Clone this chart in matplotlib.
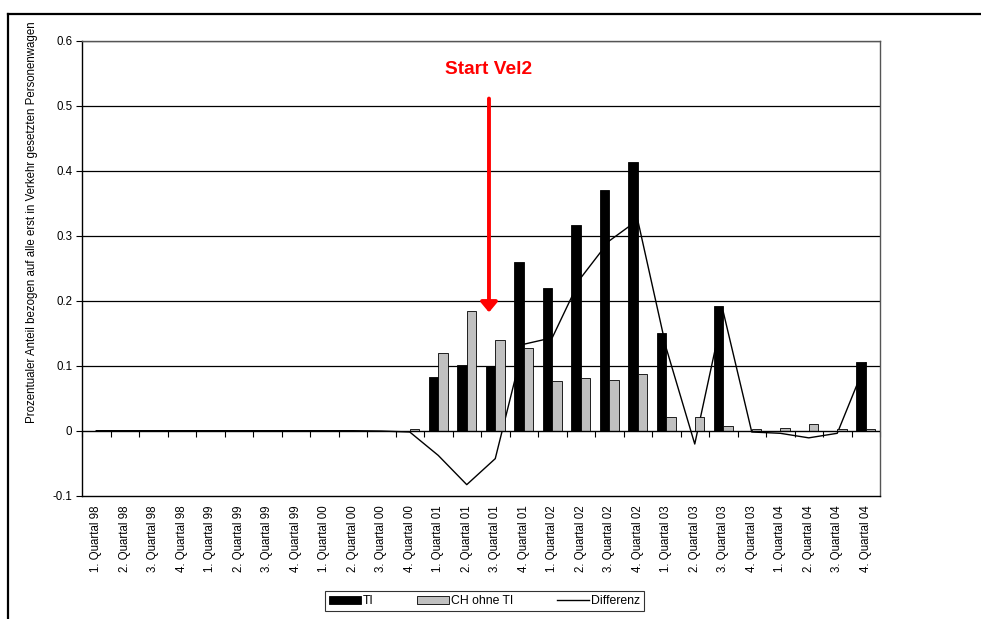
import matplotlib
matplotlib.use("Agg")
import matplotlib.pyplot as plt
import numpy as np
from matplotlib.lines import Line2D
from matplotlib.ticker import FuncFormatter

plt.rcParams['font.family'] = ['Liberation Sans', 'DejaVu Sans']

categories = [f"{q}. Quartal {y}" for y in ["98", "99", "00", "01", "02", "03", "04"] for q in (1, 2, 3, 4)]

ti = [0, 0, 0, 0, 0, 0, 0, 0, 0, 0, 0, 0,
      0.082, 0.1015, 0.099, 0.260, 0.220, 0.317, 0.371, 0.414,
      0.150, 0.0, 0.192, 0.0, 0.0, 0.0, 0.0, 0.105]
ch_ohne_ti = [0, 0, 0, 0, 0, 0, 0, 0, 0, 0, 0, 0.002,
              0.120, 0.1835, 0.1395, 0.127, 0.077, 0.0815, 0.0785, 0.087,
              0.0205, 0.0205, 0.007, 0.002, 0.004, 0.0103, 0.003, 0.002]
differenz = [0, 0, 0, 0, 0, 0, 0, 0, 0, 0, -0.0005, -0.002,
             -0.038, -0.083, -0.043, 0.133, 0.143, 0.235, 0.292, 0.324,
             0.127, -0.0205, 0.183, -0.002, -0.004, -0.011, -0.004, 0.104]

y_ticks = [-0.1, 0.0, 0.1, 0.2, 0.3, 0.4, 0.5, 0.6]

W, H = 981, 619
fig = plt.figure(figsize=(W / 100, H / 100), dpi=100)
ax = fig.add_axes([82 / W, 1 - 495.7 / H, 798 / W, 455 / H])

x = np.arange(len(categories))
w = 0.325
fs = 8.3

# grid
ax.set_ylim(-0.1, 0.6)
ax.set_xlim(-0.5, len(categories) - 0.5)
ax.set_yticks(y_ticks)
ax.yaxis.set_major_formatter(FuncFormatter(lambda v, p: ("%g" % round(v, 2))))
for yt in y_ticks:
    if yt > 0:
        ax.axhline(yt, color='black', lw=0.9, zorder=1)

ax.plot(x, differenz, color='black', lw=1.0, zorder=2, label='Differenz')
ax.bar(x - w / 2, ti, width=w, color='black', edgecolor='black', lw=0.6, zorder=3, label='TI')
ax.bar(x + w / 2, ch_ohne_ti, width=w, color='#c0c0c0', edgecolor='black', lw=0.6, zorder=3, label='CH ohne TI')

# zero axis with boundary ticks
ax.axhline(0, color='black', lw=1.0, zorder=4)
sec = ax.secondary_xaxis(0.1 / 0.7)
sec.set_xticks(np.arange(len(categories) + 1) - 0.5)
sec.set_xticklabels([])
sec.tick_params(direction='out', length=4, width=0.8, color='black')
sec.spines['bottom'].set_visible(False)

ax.set_xticks(x)
ax.set_xticklabels(categories, rotation=90, fontsize=fs)
ax.tick_params(axis='x', length=0, pad=7)
ax.tick_params(axis='y', direction='out', length=4, width=0.8, labelsize=fs, pad=3)

for s in ['top', 'right']:
    ax.spines[s].set_color('#555555')
    ax.spines[s].set_linewidth(1.0)
for s in ['left', 'bottom']:
    ax.spines[s].set_color('black')
    ax.spines[s].set_linewidth(1.0)

# annotation
xa = 13.78
ax.text(xa, 0.555, 'Start Vel2', color='red', fontsize=13.8, fontweight='bold',
        ha='center', va='center')
ax.annotate('', xy=(xa, 0.182), xytext=(xa, 0.511),
            arrowprops=dict(arrowstyle='-|>,head_width=0.5,head_length=0.6',
                            color='red', lw=2.8, mutation_scale=10,
                            shrinkA=0, shrinkB=0))

fig.text(32 / W, 1 - 222 / H,
         'Prozentualer Anteil bezogen auf alle erst in Verkehr gesetzten Personenwagen',
         rotation=90, fontsize=fs, ha='center', va='center')

handles = [plt.Rectangle((0, 0), 1, 1, facecolor='black', edgecolor='black', lw=0.6),
           plt.Rectangle((0, 0), 1, 1, facecolor='#c0c0c0', edgecolor='black', lw=0.6),
           Line2D([0], [0], color='black', lw=1.0)]
leg = fig.legend(handles, ['TI', 'CH ohne TI', 'Differenz'], ncol=3,
                 loc='center', bbox_to_anchor=(484.5 / W, 1 - 601 / H),
                 fontsize=fs + 0.5, frameon=True, fancybox=False, shadow=False,
                 handlelength=2.6, handleheight=0.6, handletextpad=0.15,
                 columnspacing=3.6, borderpad=0.35)
leg.get_frame().set_edgecolor('black')
leg.get_frame().set_linewidth(0.8)

# outer frame
fig.add_artist(Line2D([8 / W, 1], [1 - 14 / H, 1 - 14 / H], color='black', lw=1.6))
fig.add_artist(Line2D([8 / W, 8 / W], [0, 1 - 14 / H], color='black', lw=1.6))

fig.savefig('out.png', dpi=100)
